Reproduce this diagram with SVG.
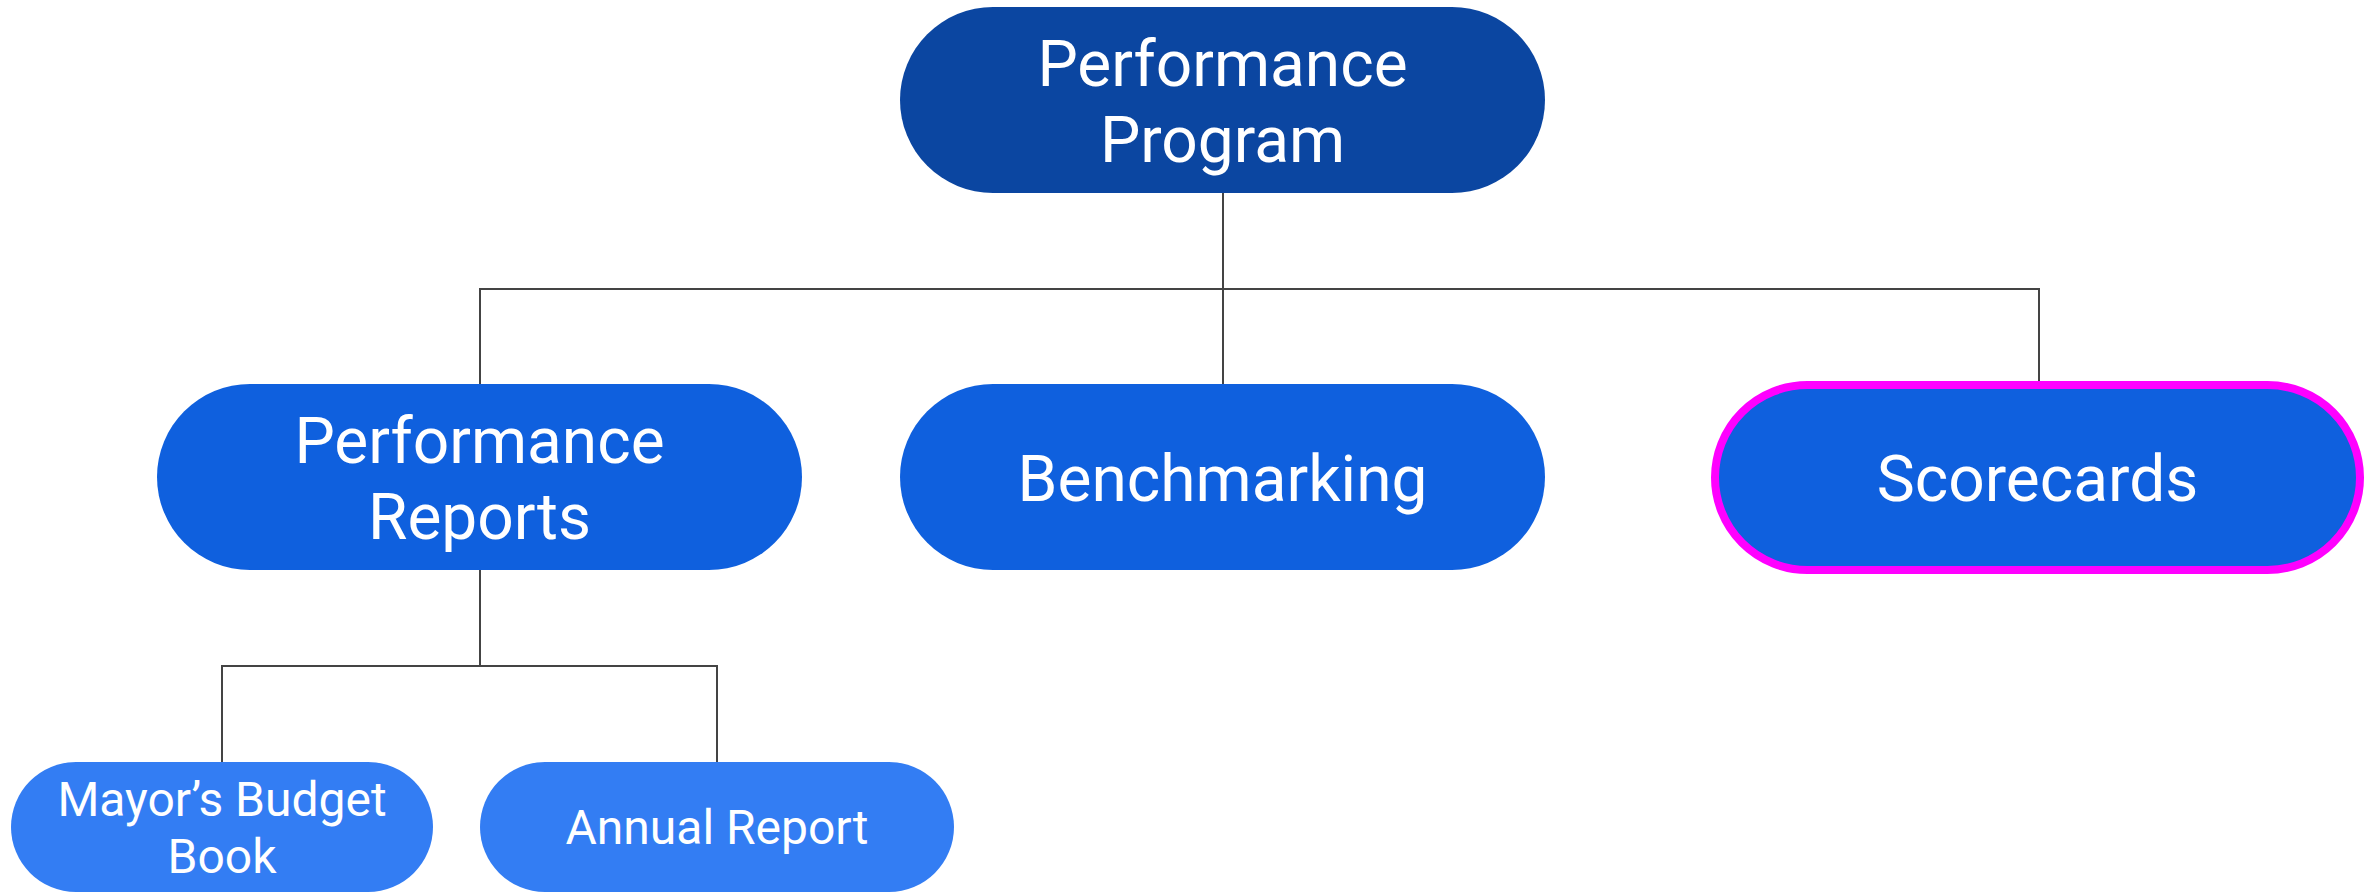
<svg xmlns="http://www.w3.org/2000/svg" width="2377" height="893" viewBox="0 0 2377 893">
<style>
.t{font-family:Roboto,"Liberation Sans",sans-serif;fill:#ffffff;text-anchor:middle}
.big{font-size:64px}
.small{font-size:48px}
.l0{fill:#0B46A1}
.l1{fill:#0F60DE}
.l2{fill:#337DF3}
.c{stroke:#444444;stroke-width:2;fill:none}
</style>
<rect width="2377" height="893" fill="#ffffff"/>
<g id="connectors">
<path class="c" d="M1223 193 V385"/>
<path class="c" d="M480 385 V289 H2039 V385"/>
<path class="c" d="M480 570 V666"/>
<path class="c" d="M222 762 V666 H717 V762"/>
</g>
<g id="node-program">
<rect class="l0" x="900" y="7" width="645" height="186" rx="93"/>
<text class="t big" x="1222.5" y="86">Performance</text>
<text class="t big" x="1222.5" y="162">Program</text>
</g>
<g id="node-reports">
<rect class="l1" x="157" y="384" width="645" height="186" rx="93"/>
<text class="t big" x="479.5" y="463">Performance</text>
<text class="t big" x="479.5" y="539">Reports</text>
</g>
<g id="node-benchmarking">
<rect class="l1" x="900" y="384" width="645" height="186" rx="93"/>
<text class="t big" x="1222.5" y="501">Benchmarking</text>
</g>
<g id="node-scorecards">
<rect class="l1" x="1715" y="385" width="645" height="185" rx="92.5" stroke="#FF00FF" stroke-width="8"/>
<text class="t big" x="2037.5" y="501">Scorecards</text>
</g>
<g id="node-budget">
<rect class="l2" x="11" y="762" width="422" height="130" rx="65"/>
<text class="t small" x="222" y="816">Mayor’s Budget</text>
<text class="t small" x="222" y="873">Book</text>
</g>
<g id="node-annual">
<rect class="l2" x="480" y="762" width="474" height="130" rx="65"/>
<text class="t small" x="717" y="844">Annual Report</text>
</g>
</svg>
